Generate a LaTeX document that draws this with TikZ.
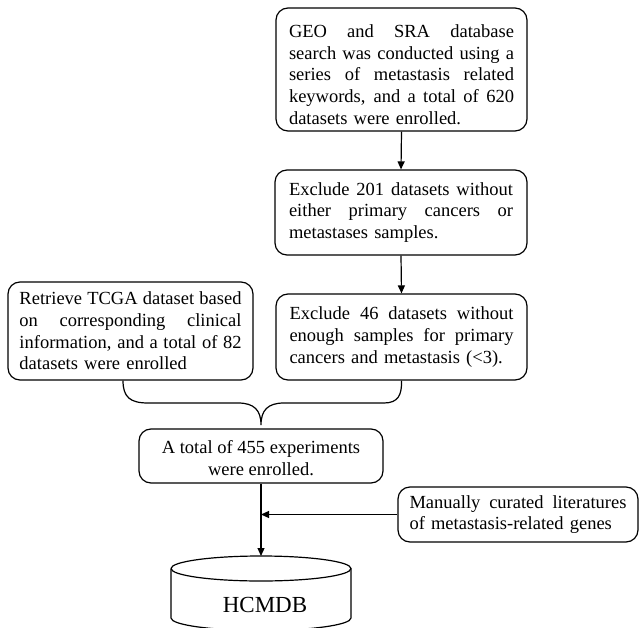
\documentclass[tikz,border=0pt]{standalone}
\usepackage{fontspec}
\setmainfont{Liberation Serif}
\usetikzlibrary{arrows.meta}
\newcommand{\jl}[2]{\leavevmode\hbox to #1{\spaceskip=0.25em plus 1fil minus 0.2em\relax #2}\\}
\begin{document}
\begin{tikzpicture}[x=1pt,y=-1pt,
  box/.style={draw, line width=1.2pt, rounded corners=12pt, inner sep=0pt,
    align=left, font=\fontsize{18.5}{21.7}\selectfont},
  conn/.style={line width=1.2pt, -{Triangle[length=8pt,width=7pt]}},
  plain/.style={line width=1.2pt}]
\useasboundingbox (0,0) rectangle (639,628);
\node[box, text width=225pt, minimum width=251pt, minimum height=123pt] (b1) at (401.5,69.5)
 {\jl{225pt}{\rule{0pt}{23pt}GEO and SRA database}\jl{225pt}{search was conducted using a}\jl{225pt}{series of metastasis related}\jl{225pt}{keywords, and a total of 620}datasets were enrolled.};
\node[box, text width=224pt, minimum width=252pt, minimum height=85pt] (b2) at (401,212.5)
 {\jl{224pt}{Exclude 201 datasets without}\jl{224pt}{either primary cancers or}metastases samples.};
\node[box, text width=224pt, minimum width=251pt, minimum height=86pt] (b3) at (401.5,337)
 {\jl{224pt}{Exclude 46 datasets without}\jl{224pt}{enough samples for primary}cancers and metastasis (<3).};
\node[box, text width=222pt, minimum width=245pt, minimum height=98pt] (bl) at (130.5,331)
 {\jl{222pt}{Retrieve TCGA dataset based}\jl{222pt}{on corresponding clinical}\jl{222pt}{information, and a total of 82}datasets were enrolled};
\node[box, align=center, minimum width=244pt, minimum height=54pt] (b4) at (261,456)
 {\rule{0pt}{17pt}A total of 455 experiments\\were enrolled.};
\node[box, text width=217pt, minimum width=240pt, minimum height=55pt] (man) at (518,514.5)
 {\jl{217pt}{Manually curated literatures}of metastasis-related genes};
% cylinder
\coordinate (dbtop) at (261,556);
\draw[plain] (171,568.5) arc[start angle=180, end angle=-180, x radius=90, y radius=12.5];
\draw[plain] (171,568.5) -- (171,618) arc[start angle=180, end angle=0, x radius=90, y radius=12.5] -- (351,568.5);
\node[font=\fontsize{23}{27}\selectfont, inner sep=0pt] (db) at (265,605) {HCMDB};
% arrows
\draw[conn] (b1.south) -- (b2.north);
\draw[conn] (b2.south) -- (b3.north);
% brace
\coordinate (tip) at (261,425);
\draw[plain] (bl.south -| 123,0) .. controls (123,397) and (130,403) .. (148,403) -- (238,403)
  .. controls (254,403) and (261,410) .. (tip)
  .. controls (261,410) and (268,403) .. (284,403) -- (384,403)
  .. controls (398,403) and (402,395) .. (b3.south);
\draw[conn] (b4.south) -- (dbtop);
\coordinate (j) at (b4.south |- man.west);
\draw[conn] (man.west) -- (j);
\end{tikzpicture}
\end{document}
